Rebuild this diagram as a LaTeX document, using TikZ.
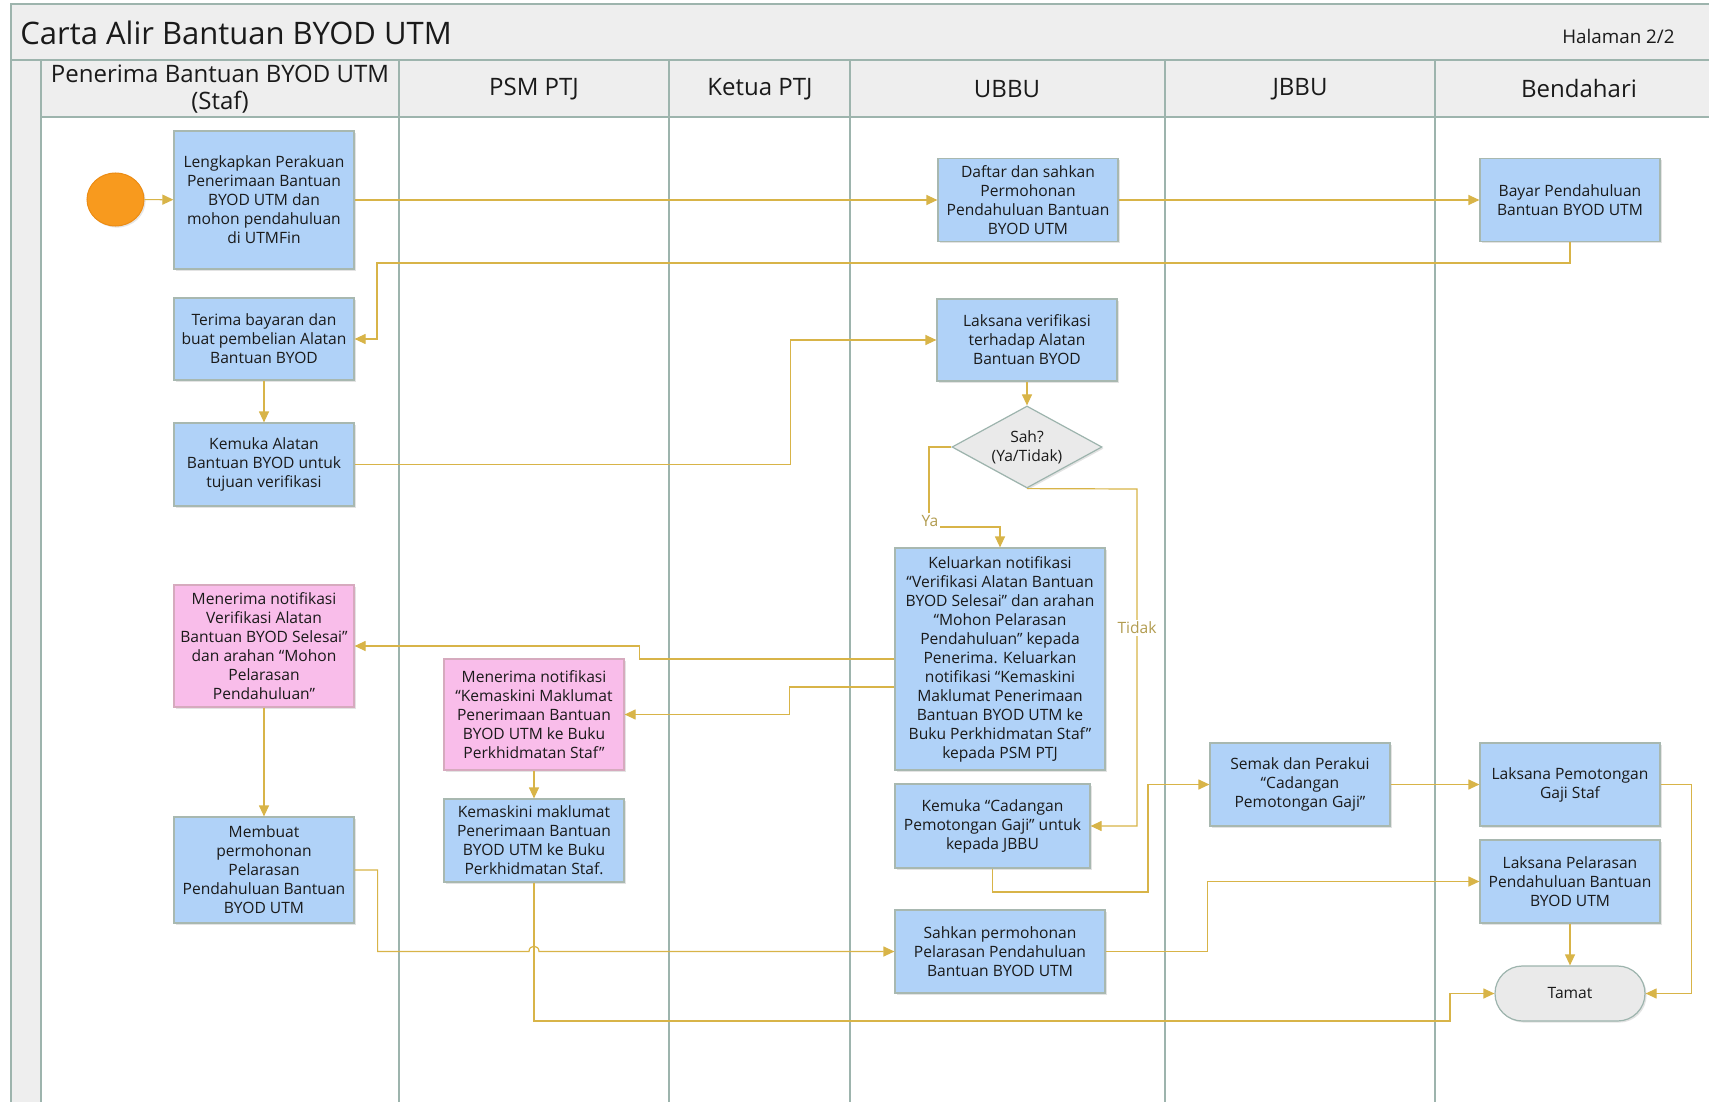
\documentclass[tikz,border=0pt]{standalone}
\usepackage{fontspec}
\setmainfont{Open Sans}
\usetikzlibrary{shapes.geometric,shadows,arrows.meta}
\definecolor{conncol}{RGB}{216,180,72}
\definecolor{lanecol}{RGB}{157,180,173}
\definecolor{hdrcol}{RGB}{238,238,238}
\definecolor{bblue}{RGB}{176,210,248}
\definecolor{bblueb}{RGB}{168,184,176}
\definecolor{bpink}{RGB}{249,189,234}
\definecolor{bpinkb}{RGB}{214,170,190}
\definecolor{dgray}{RGB}{234,234,234}
\definecolor{orng}{RGB}{248,154,30}
\definecolor{orngb}{RGB}{236,140,20}
\definecolor{lblcol}{RGB}{178,156,80}
\definecolor{txtcol}{RGB}{26,26,26}
\tikzset{
  boxtext/.style={font=\fontsize{7.8}{9.5}\selectfont, text=txtcol, align=center},
  bluebox/.style={rectangle, draw=bblueb, fill=bblue, line width=0.6pt, boxtext, inner sep=1pt,
    minimum width=90pt, drop shadow={shadow xshift=0.8pt, shadow yshift=-0.8pt, opacity=0.22}},
  pinkbox/.style={bluebox, fill=bpink, draw=bpinkb},
  decision/.style={diamond, aspect=1.83, draw=lanecol, fill=dgray, line width=0.6pt, boxtext,
    inner sep=0pt, minimum width=75pt, minimum height=41pt,
    drop shadow={shadow xshift=0.8pt, shadow yshift=-0.8pt, opacity=0.22}},
  terminal/.style={rectangle, rounded corners=13.7pt, draw=lanecol, fill=dgray, line width=0.6pt, boxtext,
    minimum width=75pt, minimum height=27.5pt,
    drop shadow={shadow xshift=0.8pt, shadow yshift=-0.8pt, opacity=0.22}},
  startnode/.style={ellipse, fill=orng, draw=orngb, line width=0.5pt, minimum width=28.5pt, minimum height=26.5pt, inner sep=0pt,
    drop shadow={shadow xshift=0.8pt, shadow yshift=-0.8pt, opacity=0.2}},
  connector/.style={draw=conncol, line width=0.6pt, -{Triangle[length=5.5pt,width=5pt]}},
  branchlabel/.style={font=\fontsize{7.8}{9.5}\selectfont, text=lblcol, fill=white, inner sep=1pt},
  lanehead/.style={font=\fontsize{12}{13.5}\selectfont, text=txtcol, align=center},
  laneline/.style={draw=lanecol, line width=1.2pt},
}
\begin{document}
\begin{tikzpicture}[x=0.5pt,y=-0.5pt]
\useasboundingbox (0,0) rectangle (1709,1102);
% frame
\fill[white] (0,0) rectangle (1709,1102);
\fill[hdrcol] (11,4) rectangle (1720,60);
\fill[hdrcol] (41,60) rectangle (1720,117);
\fill[hdrcol] (11,60) rectangle (41,1110);
\draw[laneline] (11,1110) -- (11,4) -- (1720,4);
\draw[laneline] (11,60) -- (1720,60);
\draw[laneline] (41,117) -- (1720,117);
\foreach \xx in {41,399,669,850,1165,1435} {\draw[laneline] (\xx,60) -- (\xx,1110);}
% title and headers
\node[anchor=west, font=\fontsize{15.5}{18}\selectfont, text=txtcol, inner sep=0pt] (title) at (20,33) {Carta Alir Bantuan BYOD UTM};
\node[anchor=east, font=\fontsize{9.4}{11}\selectfont, text=txtcol, inner sep=0pt] (page) at (1675,36) {Halaman 2/2};
\node[lanehead] (h1) at (220,89) {Penerima Bantuan BYOD UTM\\(Staf)};
\node[lanehead] (h2) at (534,89) {PSM PTJ};
\node[lanehead] (h3) at (760,89) {Ketua PTJ};
\node[lanehead] (h4) at (1007,89) {UBBU};
\node[lanehead] (h5) at (1300,89) {JBBU};
\node[lanehead] (h6) at (1579,89) {Bendahari};
% nodes
\node[startnode] (start) at (115.5,199.5) {};
\node[bluebox, minimum height=69pt] (lengkap) at (264,200) {Lengkapkan Perakuan\\Penerimaan Bantuan\\BYOD UTM dan\\mohon pendahuluan\\di UTMFin};
\node[bluebox, minimum height=41.5pt] (daftar) at (1028,200) {Daftar dan sahkan\\Permohonan\\Pendahuluan Bantuan\\BYOD UTM};
\node[bluebox, minimum height=41.5pt] (bayar) at (1570,200) {Bayar Pendahuluan\\Bantuan BYOD UTM};
\node[bluebox, minimum height=41pt] (terima) at (264,339) {Terima bayaran dan\\buat pembelian Alatan\\Bantuan BYOD};
\node[bluebox, minimum height=41pt] (laksanaV) at (1027,340) {Laksana verifikasi\\terhadap Alatan\\Bantuan BYOD};
\node[bluebox, minimum height=41.5pt] (kemukaA) at (264,464.5) {Kemuka Alatan\\Bantuan BYOD untuk\\tujuan verifikasi};
\node[decision] (sah) at (1027,447) {Sah?\\(Ya/Tidak)};
\node[bluebox, minimum width=105pt, minimum height=111pt] (keluar) at (1000,659) {Keluarkan notifikasi\\“Verifikasi Alatan Bantuan\\BYOD Selesai” dan arahan\\“Mohon Pelarasan\\Pendahuluan” kepada\\Penerima. Keluarkan\\notifikasi “Kemaskini\\Maklumat Penerimaan\\Bantuan BYOD UTM ke\\Buku Perkhidmatan Staf”\\kepada PSM PTJ};
\node[pinkbox, minimum height=61pt] (menV) at (264,646) {Menerima notifikasi\\Verifikasi Alatan\\Bantuan BYOD Selesai”\\dan arahan “Mohon\\Pelarasan\\Pendahuluan”};
\node[pinkbox, minimum height=55.5pt] (menK) at (534,714.5) {Menerima notifikasi\\“Kemaskini Maklumat\\Penerimaan Bantuan\\BYOD UTM ke Buku\\Perkhidmatan Staf”};
\node[bluebox, minimum height=41.5pt] (kemas) at (534,840.5) {Kemaskini maklumat\\Penerimaan Bantuan\\BYOD UTM ke Buku\\Perkhidmatan Staf.};
\node[bluebox, minimum height=53pt] (membuat) at (264,870) {Membuat\\permohonan\\Pelarasan\\Pendahuluan Bantuan\\BYOD UTM};
\node[bluebox, minimum width=97.5pt, minimum height=42pt] (kemukaC) at (992.5,826) {Kemuka “Cadangan\\Pemotongan Gaji” untuk\\kepada JBBU};
\node[bluebox, minimum width=105pt, minimum height=41.5pt] (sahkan) at (1000,951.5) {Sahkan permohonan\\Pelarasan Pendahuluan\\Bantuan BYOD UTM};
\node[bluebox, minimum height=41.5pt] (semak) at (1300,784.5) {Semak dan Perakui\\“Cadangan\\Pemotongan Gaji”};
\node[bluebox, minimum height=41.5pt] (potong) at (1570,784.5) {Laksana Pemotongan\\Gaji Staf};
\node[bluebox, minimum height=41.5pt] (pelaras) at (1570,881.5) {Laksana Pelarasan\\Pendahuluan Bantuan\\BYOD UTM};
\node[terminal] (tamat) at (1570,993.5) {Tamat};
% helper coordinates
\coordinate (yaY) at (929,527);
\coordinate (tdk) at (1137,489);
\coordinate (hopA) at (529,951.5);
\coordinate (hopB) at (539,951.5);
% connectors
\draw[connector] (start) -- (lengkap);
\draw[connector] (lengkap.east) -- (lengkap.east -| daftar.west);
\draw[connector] (daftar.east) -- (daftar.east -| bayar.west);
\draw[connector] (bayar.south) |- (377,263) |- (terima.east);
\draw[connector] (terima) -- (kemukaA);
\draw[connector] (kemukaA.east) -- ++(436,0) |- (laksanaV.west);
\draw[connector] (laksanaV) -- (sah);
\draw[connector] (sah.west) -| (yaY) -| (keluar.north);
\draw[connector] (sah.south) -- (tdk) |- (kemukaC.east);
\draw[connector] (keluar.west) -- ++(-255,0) |- (menV.east);
\draw[connector] ([yshift=-14pt]keluar.west) -- ++(-105,0) |- (menK.east);
\draw[connector] (menV) -- (membuat);
\draw[connector] (menK) -- (kemas);
\draw[connector] (membuat.east) -- ++(23,0) |- (hopA) .. controls +(0,-7) and +(0,-7) .. (hopB) -- (sahkan.west);
\draw[connector] (kemas.south) |- (1450,1021) |- (tamat.west);
\draw[connector] (kemukaC.south) |- (1148,892) |- (semak.west);
\draw[connector] (sahkan.east) -- ++(102,0) |- (pelaras.west);
\draw[connector] (semak) -- (potong);
\draw[connector] (potong.east) -- ++(31,0) |- (tamat.east);
\draw[connector] (pelaras) -- (tamat);
% branch labels
\node[branchlabel] (ya) at (930,521) {Ya};
\node[branchlabel] (tidak) at (1137,628) {Tidak};
\end{tikzpicture}
\end{document}
